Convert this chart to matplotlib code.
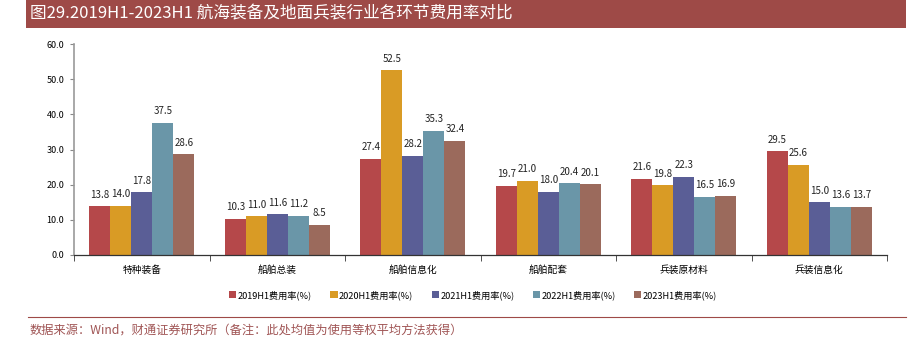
import matplotlib
matplotlib.use("Agg")
import matplotlib.pyplot as plt
import numpy as np
from matplotlib.patches import Rectangle
from matplotlib.lines import Line2D

plt.rcParams['font.family'] = ['Noto Sans CJK SC', 'DejaVu Sans']

categories = ["特种装备", "船舶总装", "船舶信息化", "船舶配套", "兵装原材料", "兵装信息化"]
series_names = ["2019H1费用率(%)", "2020H1费用率(%)", "2021H1费用率(%)", "2022H1费用率(%)", "2023H1费用率(%)"]
v2019 = [13.8, 10.3, 27.4, 19.7, 21.6, 29.5]
v2020 = [14.0, 11.0, 52.5, 21.0, 19.8, 25.6]
v2021 = [17.8, 11.6, 28.2, 18.0, 22.3, 15.0]
v2022 = [37.5, 11.2, 35.3, 20.4, 16.5, 13.6]
v2023 = [28.6, 8.5, 32.4, 20.1, 16.9, 13.7]
yticks = [0, 10, 20, 30, 40, 50, 60]

colors = ["#B5484A", "#D99B25", "#5A5E96", "#6A96A8", "#9B6A5C"]
data = [v2019, v2020, v2021, v2022, v2023]

fig = plt.figure(figsize=(9.15, 3.47), dpi=100)
W, H = 915, 347

# Title band
fig.patches.append(Rectangle((26 / W, 1 - 28 / H), (906 - 26) / W, 28 / H,
                             transform=fig.transFigure, facecolor="#9E4A47", edgecolor="none"))
fig.text(30 / W, 1 - 14 / H, "图29.2019H1-2023H1 航海装备及地面兵装行业各环节费用率对比",
         color="white", fontsize=12, va="center", ha="left")

ax = fig.add_axes([74 / W, 1 - 255 / H, (887 - 74) / W, (255 - 44) / H])
n = len(categories)
x = np.arange(n)
bw = 0.155
for i, (vals, c, name) in enumerate(zip(data, colors, series_names)):
    pos = x + (i - 2) * bw
    ax.bar(pos, vals, width=bw, color=c, label=name, edgecolor="none")
    for p, v in zip(pos, vals):
        ax.text(p, v + 1.9, f"{v:.1f}", ha="center", va="bottom", fontsize=7, color="#222222")

ax.set_xlim(-0.5, n - 0.5)
ax.set_ylim(0, 60)
ax.set_yticks(yticks)
ax.set_yticklabels([f"{t:.1f}" for t in yticks], fontsize=6.5)
ax.set_xticks(x)
ax.set_xticklabels(categories, fontsize=7)
ax.tick_params(axis='x', length=0, pad=7)
ax.set_xticks(np.arange(n + 1) - 0.5, minor=True)
ax.tick_params(axis='x', which='minor', length=4, color="#333333", direction='out')
ax.tick_params(axis='y', length=3, color="#888888", width=0.8, pad=4)
for s in ["top", "right"]:
    ax.spines[s].set_visible(False)
ax.spines["left"].set_color("#999999")
ax.spines["left"].set_linewidth(1.2)
ax.spines["bottom"].set_color("#333333")
ax.spines["bottom"].set_linewidth(0.9)

handles = [Rectangle((0, 0), 1, 1, facecolor=c, edgecolor="none") for c in colors]
fig.legend(handles, series_names, loc="center", bbox_to_anchor=(473 / W, 1 - 295 / H),
           ncol=5, frameon=False, fontsize=6.6, handlelength=0.8, handleheight=0.8,
           handletextpad=0.15, columnspacing=2.0)

fig.add_artist(Line2D([28 / W, 906 / W], [1 - 317 / H, 1 - 317 / H],
                      transform=fig.transFigure, color="#9E4A47", linewidth=0.8))
fig.text(30 / W, 1 - 330 / H, "数据来源：Wind，财通证券研究所（备注：此处均值为使用等权平均方法获得）",
         color="#A05555", fontsize=8.8, va="center", ha="left")

fig.savefig("out.png", dpi=100)
